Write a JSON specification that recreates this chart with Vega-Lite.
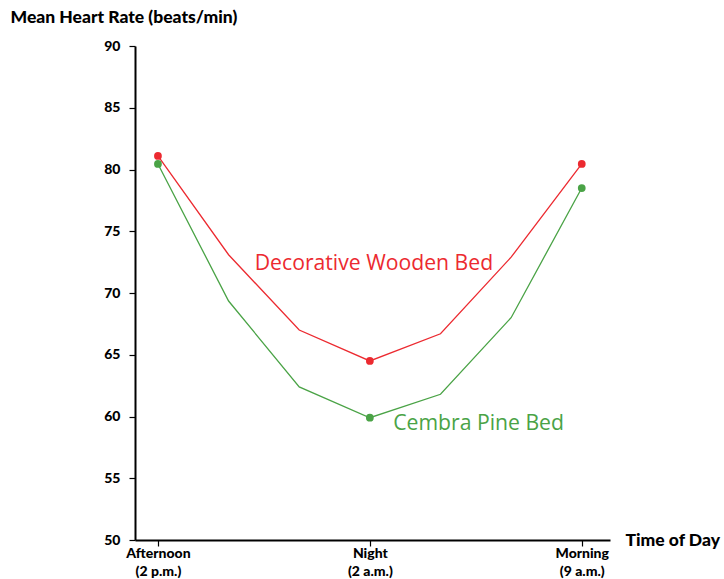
{
  "$schema": "https://vega.github.io/schema/vega-lite/v6.json",
  "width": 475,
  "height": 494,
  "autosize": {"type": "none"},
  "padding": {"left": 135, "top": 46, "right": 114, "bottom": 39},
  "background": "white",
  "config": {
    "view": {"stroke": null},
    "font": "Lato",
    "axis": {"grid": false, "domainColor": "#000000", "tickColor": "#000000", "labelColor": "#000000", "titleColor": "#000000"}
  },
  "datasets": {
    "series": [
      {"step": 0, "rate": 81.1, "bed": "Decorative Wooden Bed", "measured": true},
      {"step": 1, "rate": 73.1, "bed": "Decorative Wooden Bed", "measured": false},
      {"step": 2, "rate": 67.0, "bed": "Decorative Wooden Bed", "measured": false},
      {"step": 3, "rate": 64.5, "bed": "Decorative Wooden Bed", "measured": true},
      {"step": 4, "rate": 66.7, "bed": "Decorative Wooden Bed", "measured": false},
      {"step": 5, "rate": 72.9, "bed": "Decorative Wooden Bed", "measured": false},
      {"step": 6, "rate": 80.45, "bed": "Decorative Wooden Bed", "measured": true},
      {"step": 0, "rate": 80.45, "bed": "Cembra Pine Bed", "measured": true},
      {"step": 1, "rate": 69.35, "bed": "Cembra Pine Bed", "measured": false},
      {"step": 2, "rate": 62.4, "bed": "Cembra Pine Bed", "measured": false},
      {"step": 3, "rate": 59.9, "bed": "Cembra Pine Bed", "measured": true},
      {"step": 4, "rate": 61.8, "bed": "Cembra Pine Bed", "measured": false},
      {"step": 5, "rate": 68.0, "bed": "Cembra Pine Bed", "measured": false},
      {"step": 6, "rate": 78.5, "bed": "Cembra Pine Bed", "measured": true}
    ],
    "labels": [
      {"step": 1.37, "rate": 71.86, "bed": "Decorative Wooden Bed"},
      {"step": 3.33, "rate": 58.9, "bed": "Cembra Pine Bed"}
    ]
  },
  "layer": [
    {
      "data": {"name": "series"},
      "mark": {"type": "line", "strokeWidth": 1.3},
      "encoding": {
        "x": {
          "field": "step", "type": "quantitative",
          "scale": {"domain": [-0.325, 6.4], "nice": false, "zero": false},
          "axis": {
            "values": [0, 3, 6],
            "labelExpr": "datum.value == 0 ? ['Afternoon', '(2 p.m.)'] : datum.value == 3 ? ['Night', '(2 a.m.)'] : ['Morning', '(9 a.m.)']",
            "labelFont": "Lato", "labelFontWeight": 900, "labelFontSize": 14,
            "labelLineHeight": 18, "labelPadding": 0, "labelBaseline": "top",
            "tickSize": 6, "tickWidth": 1.2, "domainWidth": 2,
            "title": "Time of Day", "titleFont": "Lato", "titleFontWeight": 900, "titleFontSize": 17.5,
            "titleAngle": 0, "titleAlign": "left", "titleBaseline": "alphabetic",
            "titleX": 490, "titleY": 5
          }
        },
        "y": {
          "field": "rate", "type": "quantitative",
          "scale": {"domain": [50, 90], "nice": false, "zero": false},
          "axis": {
            "values": [50, 55, 60, 65, 70, 75, 80, 85, 90],
            "labelFont": "Lato", "labelFontWeight": 900, "labelFontSize": 14,
            "labelPadding": 9, "tickSize": 6, "tickWidth": 1.2, "domainWidth": 2,
            "title": "Mean Heart Rate (beats/min)", "titleFont": "Lato", "titleFontWeight": 900, "titleFontSize": 17.5,
            "titleAngle": 0, "titleAlign": "left", "titleBaseline": "alphabetic",
            "titleX": -125, "titleY": -24
          }
        },
        "color": {
          "field": "bed", "type": "nominal",
          "scale": {"domain": ["Decorative Wooden Bed", "Cembra Pine Bed"], "range": ["#ec2a30", "#4aa346"]},
          "legend": null
        },
        "detail": {"field": "bed"}
      }
    },
    {
      "data": {"name": "series"},
      "transform": [{"filter": "datum.measured"}],
      "mark": {"type": "point", "filled": true, "opacity": 1, "size": 60},
      "encoding": {
        "x": {"field": "step", "type": "quantitative"},
        "y": {"field": "rate", "type": "quantitative"},
        "color": {"field": "bed", "type": "nominal", "legend": null}
      }
    },
    {
      "data": {"name": "labels"},
      "mark": {"type": "text", "align": "left", "baseline": "alphabetic", "fontSize": 21.2, "font": "Open Sans"},
      "encoding": {
        "x": {"field": "step", "type": "quantitative"},
        "y": {"field": "rate", "type": "quantitative"},
        "text": {"field": "bed"},
        "color": {"field": "bed", "type": "nominal", "legend": null}
      }
    }
  ]
}
